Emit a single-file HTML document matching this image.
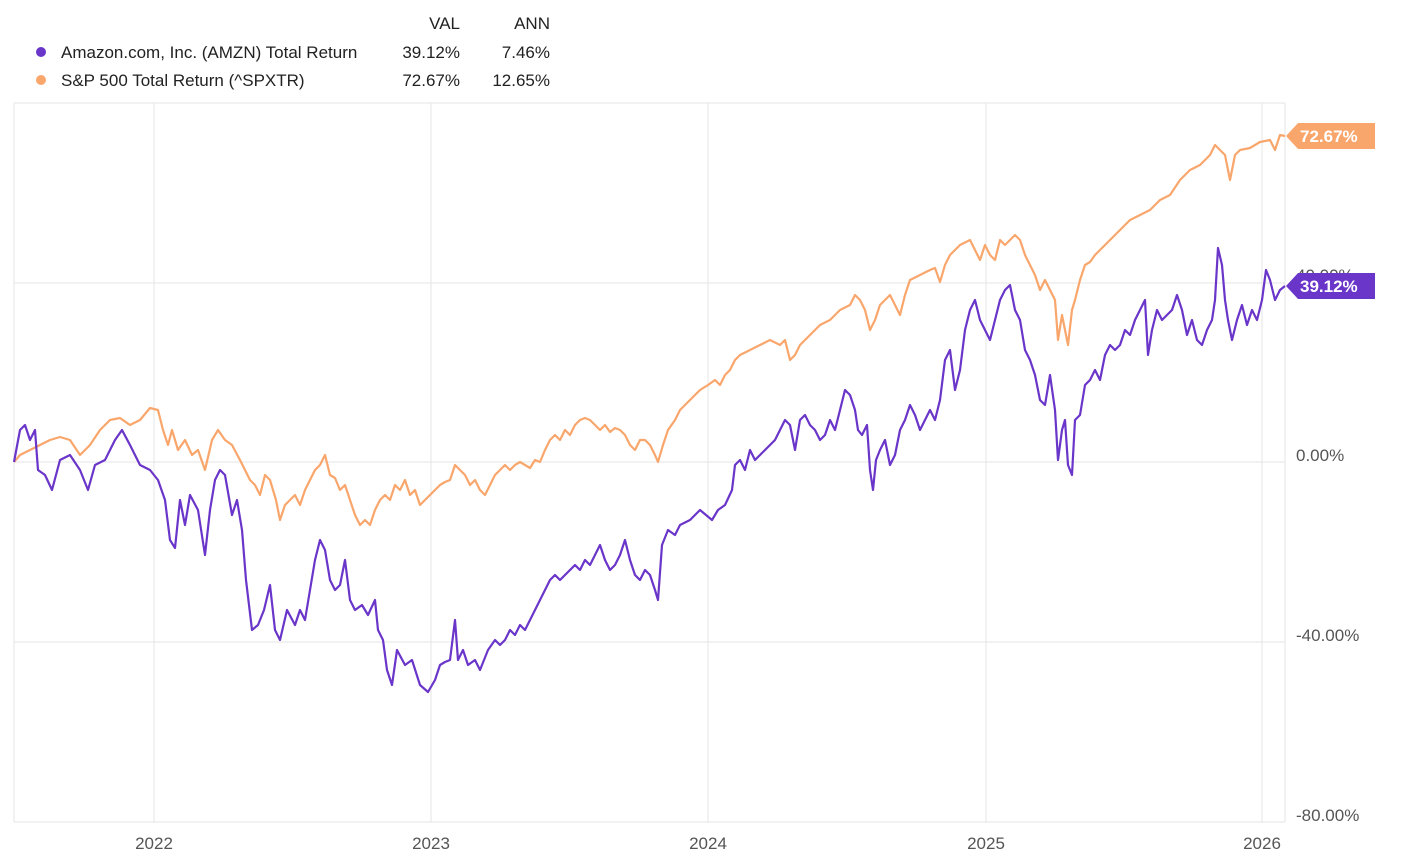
<!DOCTYPE html>
<html><head><meta charset="utf-8"><style>
body{margin:0;background:#fff;width:1426px;height:853px;overflow:hidden;font-family:"Liberation Sans",sans-serif}
svg text{font-family:"Liberation Sans",sans-serif}
</style></head><body>
<svg width="1426" height="853" xmlns="http://www.w3.org/2000/svg">
<g font-size="17" fill="#222">
<text x="460" y="29" text-anchor="end">VAL</text>
<text x="550" y="29" text-anchor="end">ANN</text>
<circle cx="41" cy="52" r="5" fill="#6a35c9"/>
<text x="61" y="58">Amazon.com, Inc. (AMZN) Total Return</text>
<text x="460" y="58" text-anchor="end">39.12%</text>
<text x="550" y="58" text-anchor="end">7.46%</text>
<circle cx="41" cy="80" r="5" fill="#f9a66c"/>
<text x="61" y="86">S&amp;P 500 Total Return (^SPXTR)</text>
<text x="460" y="86" text-anchor="end">72.67%</text>
<text x="550" y="86" text-anchor="end">12.65%</text>
</g>
<g stroke="#e6e6e6" stroke-width="1">
<line x1="14" y1="103" x2="1285" y2="103"/>
<line x1="14" y1="283" x2="1285" y2="283"/>
<line x1="14" y1="462" x2="1285" y2="462"/>
<line x1="14" y1="642" x2="1285" y2="642"/>
<line x1="14" y1="822" x2="1285" y2="822"/>
<line x1="14" y1="103" x2="14" y2="822"/>
<line x1="1285" y1="103" x2="1285" y2="822"/>
<line x1="154" y1="103" x2="154" y2="822"/>
<line x1="431" y1="103" x2="431" y2="822"/>
<line x1="708" y1="103" x2="708" y2="822"/>
<line x1="986" y1="103" x2="986" y2="822"/>
<line x1="1262" y1="103" x2="1262" y2="822"/>
</g>
<g font-size="17" fill="#555">
<text x="1296" y="461">0.00%</text>
<text x="1296" y="641">-40.00%</text>
<text x="1296" y="821">-80.00%</text>
<text x="1296" y="281">40.00%</text>
<text x="154" y="849" text-anchor="middle">2022</text>
<text x="431" y="849" text-anchor="middle">2023</text>
<text x="708" y="849" text-anchor="middle">2024</text>
<text x="986" y="849" text-anchor="middle">2025</text>
<text x="1262" y="849" text-anchor="middle">2026</text>
</g>
<polyline fill="none" stroke="#f9a66c" stroke-width="2.2" stroke-linejoin="round" points="14,462 20,455 30,450 40,445 50,440 60,437 70,440 80,455 90,445 100,430 110,420 120,418 130,425 140,420 150,408 158,410 163,430 168,445 172,430 178,450 185,440 192,455 198,450 205,470 212,440 218,430 225,440 232,445 240,460 245,470 250,480 255,485 260,495 265,475 270,480 276,500 280,520 285,505 290,500 295,495 300,505 305,490 310,480 315,470 320,465 325,455 330,475 335,478 340,490 345,485 350,500 355,515 360,525 365,520 370,525 375,510 380,500 385,495 390,500 395,485 400,490 405,480 410,495 415,490 420,505 425,500 430,495 435,490 440,485 445,482 450,480 455,465 460,470 465,475 470,485 475,480 480,490 485,495 490,485 495,475 500,470 505,465 510,470 515,465 520,462 525,465 530,468 535,460 540,462 545,450 550,440 555,435 560,440 565,430 570,435 575,425 580,420 585,418 590,420 595,425 600,430 605,425 610,432 615,428 620,430 625,435 630,445 635,450 640,440 645,440 650,445 655,455 658,462 663,445 668,430 675,420 680,410 690,400 695,395 700,390 708,385 715,380 720,385 725,375 730,370 735,360 740,355 750,350 760,345 770,340 780,345 785,340 790,360 795,355 800,345 810,335 820,325 830,320 840,310 850,305 855,295 860,300 865,310 870,330 875,320 880,305 885,300 890,295 895,305 900,315 905,295 910,280 920,275 930,270 935,268 940,282 945,265 950,255 960,245 970,240 975,250 980,260 985,245 990,255 995,260 1000,240 1005,245 1010,240 1015,235 1020,240 1025,255 1030,265 1035,275 1040,290 1045,280 1050,290 1055,300 1058,340 1062,315 1065,330 1068,345 1072,310 1075,300 1080,280 1085,265 1090,262 1095,255 1100,250 1110,240 1120,230 1130,220 1140,215 1150,210 1160,200 1170,195 1180,180 1190,170 1200,165 1210,155 1215,145 1220,150 1225,155 1230,180 1235,155 1240,150 1250,148 1260,142 1270,140 1275,150 1280,135 1285,136"/>
<polyline fill="none" stroke="#6a35c9" stroke-width="2.2" stroke-linejoin="round" points="14,462 20,430 25,425 30,440 35,430 38,470 45,475 52,490 60,460 70,455 80,470 88,490 95,465 105,460 115,440 122,430 130,445 140,465 150,470 158,480 165,500 170,540 175,548 180,500 185,525 190,495 198,510 205,555 210,510 215,480 220,470 225,475 232,515 237,500 242,530 246,580 252,630 258,625 264,610 270,585 275,630 280,640 287,610 295,625 300,610 305,620 310,590 315,560 320,540 325,550 330,580 335,590 340,585 345,560 350,600 355,610 362,605 368,615 375,600 378,630 383,640 387,670 392,685 397,650 405,665 412,660 420,685 428,692 435,680 440,665 445,662 450,660 455,620 458,660 463,650 468,665 475,660 480,670 488,650 495,640 500,645 505,640 510,630 515,635 520,625 525,630 530,620 535,610 540,600 545,590 550,580 555,575 560,580 565,575 570,570 575,565 580,570 585,560 590,565 595,555 600,545 605,560 610,570 615,565 620,555 625,540 630,560 635,575 640,580 645,570 650,575 655,590 658,600 662,545 668,530 675,535 680,525 690,520 695,515 700,510 706,515 712,520 718,510 725,505 732,490 735,465 740,460 745,470 750,450 755,460 760,455 765,450 770,445 775,440 780,430 785,420 790,425 795,450 800,420 805,415 810,425 815,430 820,440 825,435 830,420 835,430 840,410 845,390 850,395 855,410 858,430 862,435 867,425 870,470 873,490 876,460 880,450 885,440 890,465 895,455 900,430 905,420 910,405 915,415 920,430 925,420 930,410 935,420 940,400 945,360 950,350 955,390 960,370 965,330 970,310 975,300 980,320 985,330 990,340 995,320 1000,300 1005,290 1010,285 1015,310 1020,320 1025,350 1030,360 1035,375 1040,400 1045,405 1050,375 1055,410 1058,460 1062,430 1065,420 1068,465 1072,475 1075,420 1080,415 1085,385 1090,380 1095,370 1100,380 1105,355 1110,345 1115,350 1120,345 1125,330 1130,335 1135,320 1140,310 1145,300 1148,355 1152,330 1157,310 1162,320 1167,315 1172,310 1177,295 1182,310 1187,335 1192,320 1197,340 1202,345 1207,330 1212,320 1215,300 1218,248 1222,265 1225,300 1228,320 1232,340 1237,320 1242,305 1247,325 1252,310 1257,320 1262,300 1266,270 1270,280 1275,300 1280,290 1285,286"/>
<polygon points="1286,136 1298,123 1375,123 1375,149 1298,149" fill="#f9a66c"/>
<text x="1300" y="142" font-size="17" font-weight="bold" fill="#fff">72.67%</text>
<polygon points="1286,286 1298,273 1375,273 1375,299 1298,299" fill="#6a35c9"/>
<text x="1300" y="292" font-size="17" font-weight="bold" fill="#fff">39.12%</text>
</svg>
</body></html>
